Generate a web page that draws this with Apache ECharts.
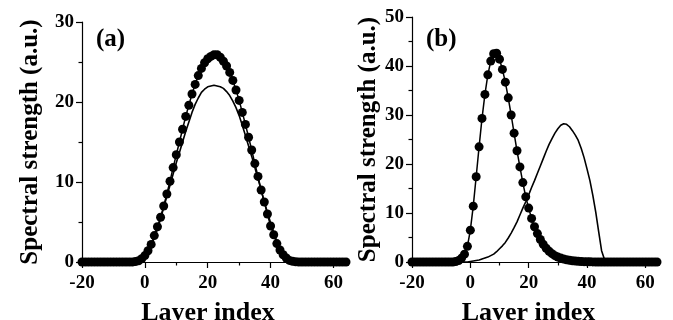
<!DOCTYPE html>
<html>
<head>
<meta charset="utf-8">
<script src="https://cdn.jsdelivr.net/npm/echarts@6/dist/echarts.min.js"></script>
<style>
  html, body { margin: 0; padding: 0; background: #fff; }
  #chart { width: 673px; height: 320px; }
</style>
</head>
<body>
<div id="chart"></div>
<script>
// layer index (x) shared by both panels
const layers = [-20, -19, -18, -17, -16, -15, -14, -13, -12, -11, -10, -9, -8, -7, -6, -5, -4, -3, -2, -1,
  0, 1, 2, 3, 4, 5, 6, 7, 8, 9, 10, 11, 12, 13, 14, 15, 16, 17, 18, 19, 20, 21, 22, 23, 24, 25, 26, 27, 28, 29,
  30, 31, 32, 33, 34, 35, 36, 37, 38, 39, 40, 41, 42, 43, 44, 45, 46, 47, 48, 49, 50, 51, 52, 53, 54, 55, 56, 57, 58, 59,
  60, 61, 62, 63, 64]

// panel (a)
const dotsA = [0, 0, 0, 0, 0, 0, 0, 0, 0, 0, 0, 0, 0, 0, 0, 0, 0, 0.05, 0.15, 0.4,
  0.8, 1.4, 2.2, 3.3, 4.4, 5.6, 7.0, 8.5, 10.1, 11.8, 13.4, 15.0, 16.6, 18.2, 19.6, 21.0, 22.2, 23.3, 24.2, 24.9,
  25.4, 25.7, 25.9, 25.9, 25.6, 25.1, 24.5, 23.7, 22.7, 21.5, 20.2, 18.7, 17.2, 15.6, 14.0, 12.3, 10.7, 9.0, 7.5, 6.0,
  4.5, 3.4, 2.3, 1.5, 0.9, 0.5, 0.2, 0.08, 0.02, 0, 0, 0, 0, 0, 0, 0, 0, 0, 0, 0,
  0, 0, 0, 0, 0]
const lineA = [0, 0, 0, 0, 0, 0, 0, 0, 0, 0, 0, 0, 0, 0, 0, 0, 0, 0, 0.05, 0.2,
  0.6, 1.2, 2.0, 3.0, 4.1, 5.4, 6.8, 8.2, 9.6, 11.0, 12.4, 13.7, 15.0, 16.3, 17.5, 18.7, 19.7, 20.5, 21.2, 21.6,
  21.9, 22.0, 22.1, 22.0, 21.9, 21.7, 21.3, 20.8, 20.1, 19.3, 18.3, 17.1, 15.8, 14.5, 13.2, 11.8, 10.4, 9.0, 7.5, 6.2,
  4.9, 3.7, 2.6, 1.7, 1.0, 0.4, 0.1, 0, 0, 0, 0, 0, 0, 0, 0, 0, 0, 0, 0, 0,
  0, 0, 0, 0, 0]

// panel (b)
const dotsB = [0, 0, 0, 0, 0, 0, 0, 0, 0, 0, 0, 0, 0, 0, 0, 0.1, 0.3, 0.8, 1.6, 3.2,
  6.5, 11.4, 17.4, 23.5, 29.3, 34.2, 38.2, 41.0, 42.5, 42.6, 41.4, 39.3, 36.7, 33.5, 30.0, 26.3, 22.7, 19.4, 16.2, 13.3,
  11.0, 8.9, 7.2, 5.8, 4.6, 3.6, 2.8, 2.2, 1.7, 1.3, 1.0, 0.8, 0.6, 0.45, 0.35, 0.25, 0.2, 0.15, 0.1, 0.07,
  0.05, 0.03, 0.02, 0, 0, 0, 0, 0, 0, 0, 0, 0, 0, 0, 0, 0, 0, 0, 0, 0,
  0, 0, 0, 0, 0]
const lineB = [0, 0, 0, 0, 0, 0, 0, 0, 0, 0, 0, 0, 0, 0, 0, 0, 0, 0, 0, 0,
  0.1, 0.2, 0.3, 0.4, 0.6, 0.8, 1.0, 1.3, 1.6, 2.1, 2.7, 3.3, 4.0, 4.9, 5.9, 7.0, 8.2, 9.6, 11.0, 12.3,
  13.7, 15.2, 16.6, 18.1, 19.6, 21.1, 22.6, 24.0, 25.2, 26.3, 27.2, 27.9, 28.2, 28.1, 27.6, 26.8, 25.9, 24.8, 23.2, 21.3,
  19.0, 16.6, 13.6, 10.2, 6.2, 2.3, 0.5, 0, 0, 0, 0, 0, 0, 0, 0, 0, 0, 0, 0, 0,
  0, 0, 0, 0, 0]

// tick labels
const xMajorTicks = [-20, 0, 20, 40, 60]
const xMinorTicks = [-10, 10, 30, 50]
const yMaxA = 30
const yMaxB = 50

const FONT = 'Liberation Serif'
const INK = '#000'

const pairs = (ys) => layers.map((x, i) => [x, ys[i]])

const mainX = (gridIndex) => ({
  type: 'value',
  gridIndex,
  min: -20,
  max: 64,
  position: 'bottom',
  splitLine: { show: false },
  axisLine: { onZero: false, lineStyle: { color: INK, width: 1.2 } },
  axisTick: { customValues: xMajorTicks, length: 6, lineStyle: { color: INK, width: 1.2 } },
  axisLabel: {
    customValues: xMajorTicks,
    margin: 12,
    color: INK,
    fontFamily: FONT,
    fontWeight: 'bold',
    fontSize: 19
  },
  name: 'Layer index',
  nameLocation: 'middle',
  nameGap: 38,
  nameTextStyle: {
    color: INK,
    fontFamily: FONT,
    fontWeight: 'bold',
    fontSize: 26,
    padding: [0, 12, 0, 0]
  }
})

const minorX = (gridIndex) => ({
  type: 'value',
  gridIndex,
  min: -20,
  max: 64,
  position: 'bottom',
  splitLine: { show: false },
  axisLine: { show: false, onZero: false },
  axisTick: { customValues: xMinorTicks, length: 3.5, lineStyle: { color: INK, width: 1.2 } },
  axisLabel: { show: false }
})

const yAx = (gridIndex, max, gap) => ({
  type: 'value',
  gridIndex,
  min: 0,
  max,
  interval: 10,
  position: 'left',
  splitLine: { show: false },
  axisLine: { show: true, onZero: false, lineStyle: { color: INK, width: 1.2 } },
  axisTick: { show: true, length: 6, lineStyle: { color: INK, width: 1.2 } },
  minorTick: { show: true, splitNumber: 2, length: 3.5, lineStyle: { color: INK, width: 1.2 } },
  axisLabel: { margin: 8, color: INK, fontFamily: FONT, fontWeight: 'bold', fontSize: 19 },
  name: 'Spectral strength (a.u.)',
  nameLocation: 'middle',
  nameGap: gap,
  nameTextStyle: { color: INK, fontFamily: FONT, fontWeight: 'bold', fontSize: 25 }
})

const dotSeries = (xi, yi, ys) => ({
  type: 'line',
  xAxisIndex: xi,
  yAxisIndex: yi,
  data: pairs(ys),
  symbol: 'circle',
  symbolSize: 9,
  showAllSymbol: true,
  clip: false,
  itemStyle: { color: INK },
  lineStyle: { color: INK, width: 1.5 }
})

const lineSeries = (xi, yi, ys) => ({
  type: 'line',
  xAxisIndex: xi,
  yAxisIndex: yi,
  data: pairs(ys),
  showSymbol: false,
  clip: false,
  lineStyle: { color: INK, width: 1.6 }
})

const chart = echarts.init(document.getElementById('chart'))

const option = {
  animation: false,
  backgroundColor: '#fff',
  grid: [
    { left: 82, right: 327, top: 22, bottom: 58, outerBoundsMode: 'none', containLabel: false },
    { left: 412, right: 16, top: 17, bottom: 58, outerBoundsMode: 'none', containLabel: false }
  ],
  xAxis: [mainX(0), minorX(0), mainX(1), minorX(1)],
  yAxis: [yAx(0, yMaxA, 39), yAx(1, yMaxB, 31)],
  graphic: [
    { type: 'text', left: 96, top: 27, style: { text: '(a)', font: 'bold 25px "Liberation Serif"', fill: INK } },
    { type: 'text', left: 426, top: 27, style: { text: '(b)', font: 'bold 25px "Liberation Serif"', fill: INK } }
  ],
  series: [
    dotSeries(0, 0, dotsA),
    lineSeries(0, 0, lineA),
    dotSeries(2, 1, dotsB),
    lineSeries(2, 1, lineB)
  ]
}

chart.setOption(option)
</script>
</body>
</html>
